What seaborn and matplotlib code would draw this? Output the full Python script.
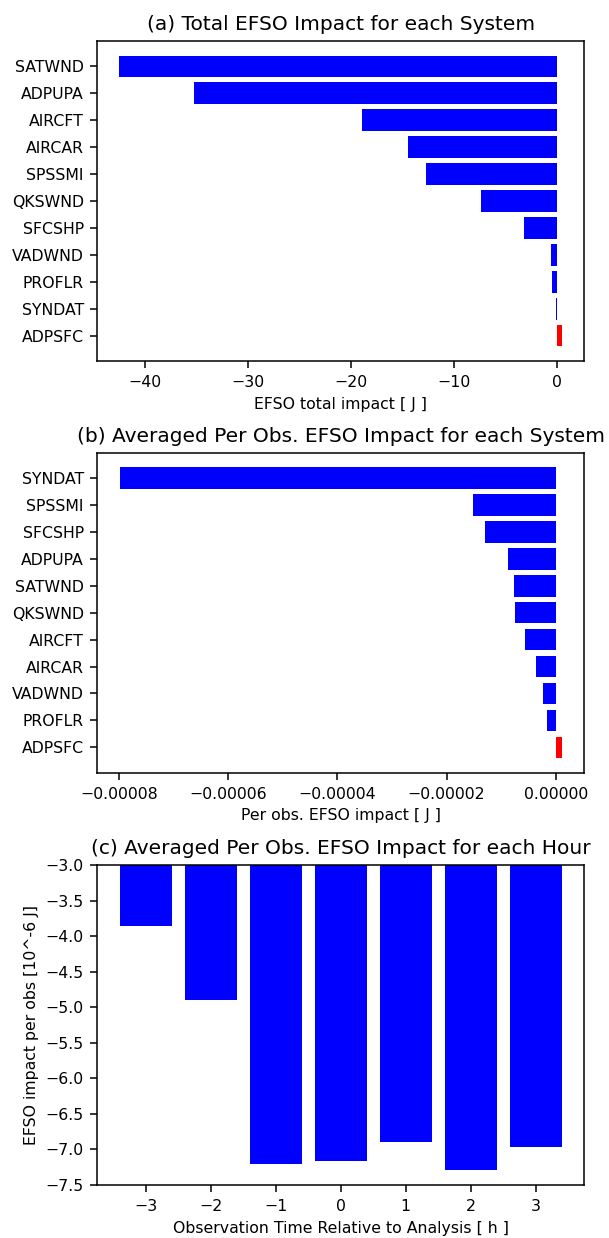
import matplotlib
matplotlib.use("Agg")
import matplotlib.pyplot as plt
import matplotlib.ticker as mticker
import seaborn as sns
import pandas as pd

# (a) total impact per system [J]
systems_total = ["SATWND", "ADPUPA", "AIRCFT", "AIRCAR", "SPSSMI", "QKSWND",
                 "SFCSHP", "VADWND", "PROFLR", "SYNDAT", "ADPSFC"]
total_impact = [-42.5, -35.2, -18.95, -14.5, -12.7, -7.35, -3.2, -0.6, -0.48, -0.08, 0.52]

# (b) averaged per obs impact per system [J]
systems_perobs = ["SYNDAT", "SPSSMI", "SFCSHP", "ADPUPA", "SATWND", "QKSWND",
                  "AIRCFT", "AIRCAR", "VADWND", "PROFLR", "ADPSFC"]
perobs_impact = [-7.99e-5, -1.52e-5, -1.29e-5, -8.7e-6, -7.6e-6, -7.5e-6,
                 -5.7e-6, -3.6e-6, -2.4e-6, -1.6e-6, 1.2e-6]

# (c) averaged per obs impact per hour [10^-6 J]
hours = [-3, -2, -1, 0, 1, 2, 3]
hour_impact = [-3.86, -4.90, -7.20, -7.16, -6.89, -7.29, -6.96]

df_a = pd.DataFrame({"system": systems_total, "impact": total_impact})
df_b = pd.DataFrame({"system": systems_perobs, "impact": perobs_impact})
df_c = pd.DataFrame({"hour": hours, "impact": hour_impact})

plt.rcParams["font.size"] = 11.3
plt.rcParams["axes.linewidth"] = 1.1
plt.rcParams["axes.labelpad"] = 5
plt.rcParams["xtick.major.size"] = 5
plt.rcParams["ytick.major.size"] = 5
plt.rcParams["xtick.major.width"] = 1.1
plt.rcParams["ytick.major.width"] = 1.1
plt.rcParams["xtick.major.pad"] = 5
plt.rcParams["ytick.major.pad"] = 4.5

def bar_colors(vals):
    return ["red" if v > 0 else "blue" for v in vals]

fig = plt.figure(figsize=(6.09, 12.38), dpi=100)
ax1 = fig.add_axes([0.1593, 0.7084, 0.8002, 0.2585])
ax2 = fig.add_axes([0.1593, 0.3759, 0.8002, 0.2584])
ax3 = fig.add_axes([0.1593, 0.0428, 0.8002, 0.2585])

title_kw = dict(fontsize=14.5, pad=8)

sns.barplot(data=df_a, x="impact", y="system", hue="system",
            palette=bar_colors(total_impact), saturation=1, width=0.8,
            linewidth=0, legend=False, orient="h", ax=ax1)
ax1.set_ylim(10.94, -0.94)
ax1.set_xlim(-44.65, 2.65)
ax1.set_title("(a) Total EFSO Impact for each System", **title_kw)
ax1.set_xlabel("EFSO total impact [ J ]")
ax1.set_ylabel("")

sns.barplot(data=df_b, x="impact", y="system", hue="system",
            palette=bar_colors(perobs_impact), saturation=1, width=0.8,
            linewidth=0, legend=False, orient="h", ax=ax2)
ax2.set_ylim(10.94, -0.94)
ax2.set_xlim(-8.406e-5, 5.26e-6)
ax2.set_xticks([-8e-5, -6e-5, -4e-5, -2e-5, 0])
ax2.xaxis.set_major_formatter(
    mticker.FuncFormatter(lambda v, p: ("%.5f" % v).replace("-", "\u2212")))
ax2.set_title("(b) Averaged Per Obs. EFSO Impact for each System", **title_kw)
ax2.set_xlabel("Per obs. EFSO impact [ J ]")
ax2.set_ylabel("")

sns.barplot(data=df_c, x="hour", y="impact", color="blue", saturation=1,
            width=0.8, linewidth=0, native_scale=True, ax=ax3)
ax3.set_xlim(-3.75, 3.75)
ax3.set_ylim(-7.5, -3.0)
ax3.set_xticks(hours)
ax3.set_title("(c) Averaged Per Obs. EFSO Impact for each Hour", **title_kw)
ax3.set_xlabel("Observation Time Relative to Analysis [ h ]")
ax3.set_ylabel("EFSO impact per obs [10^-6 J]")

fig.savefig("out.png", dpi=100)
